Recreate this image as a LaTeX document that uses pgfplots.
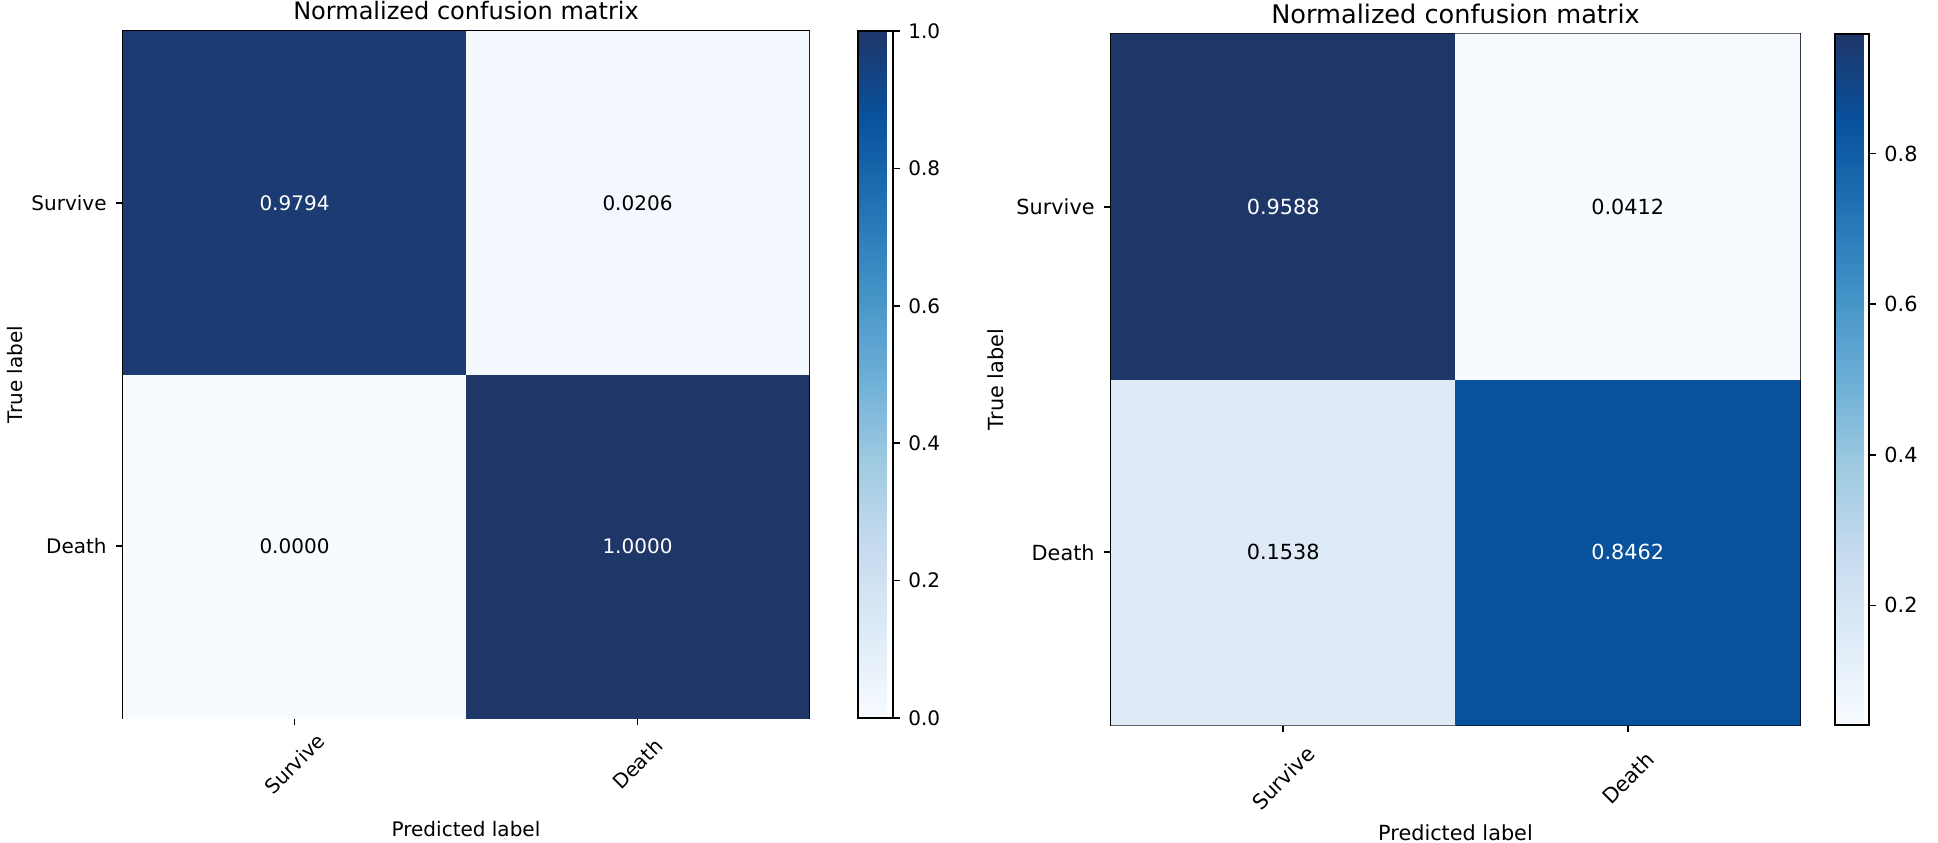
\documentclass[border=0pt]{standalone}
\usepackage{fontspec}
\setmainfont{DejaVu Sans}
\usepackage{pgfplots}
\usepackage{pgfplotstable}
\pgfplotsset{compat=1.18}

\pgfplotsset{
  colormap={mblues}{rgb255(0cm)=(247,251,255); rgb255(1cm)=(222,235,247); rgb255(2cm)=(198,219,239); rgb255(3cm)=(158,202,225); rgb255(4cm)=(107,174,214); rgb255(5cm)=(66,146,198); rgb255(6cm)=(33,113,181); rgb255(7cm)=(8,81,156); rgb255(8cm)=(31,54,105)},
  nf/.style={/pgf/number format/fixed, /pgf/number format/fixed zerofill, /pgf/number format/precision=1, /pgf/number format/assume math mode=true},
  cm/.style={
    scale only axis, xmin=-0.5, xmax=1.5, ymin=-0.5, ymax=1.5,
    xtick={0,1}, ytick={0,1},
    xticklabels={Survive,Death}, yticklabels={Death,Survive},
    xtick pos=bottom, ytick pos=left, tick align=outside, major tick length=3.5pt,
    tick style={black, line width=0.8pt},
    axis line style={line width=0.8pt},
    colormap name=mblues, colorbar,
    enlargelimits=false, clip=true,
    every axis title shift=0pt,
  },
}

\pgfplotstableread{
x y c
0 0 0.0000
1 0 1.0000
0 1 0.9794
1 1 0.0206
}\leftcm
\pgfplotstableread{
x y c
0 0 0.1538
1 0 0.8462
0 1 0.9588
1 1 0.0412
}\rightcm

\begin{document}
\begin{tikzpicture}
\useasboundingbox (0,0) rectangle (969pt,421pt);
% ---------------- left ----------------
\begin{axis}[cm,
  at={(61.5pt,62pt)}, anchor=south west, width=343pt, height=343.5pt,
  point meta min=0, point meta max=1,
  title={Normalized confusion matrix},
  title style={at={(axis description cs:0.5,1.016)}, anchor=base, yshift=0pt, inner sep=0pt, font=\fontsize{12}{14}\selectfont},
  xlabel={Predicted label}, ylabel={True label},
  xlabel style={at={(axis description cs:0.5,-0.1732)}, anchor=base, inner sep=0pt, font=\fontsize{10}{12}\selectfont},
  ylabel style={at={(axis description cs:-0.1458,0.5)}, anchor=base, inner sep=0pt, font=\fontsize{10}{12}\selectfont},
  xticklabel style={yshift=-19.5pt, rotate=45, anchor=center, inner sep=0pt, font=\fontsize{10}{12}\selectfont},
  yticklabel style={anchor=east, inner sep=0pt, xshift=-4.5pt, font=\fontsize{10}{12}\selectfont},
  colorbar style={at={(parent axis.north east)}, anchor=north west, xshift=15.96pt,
    scale only axis, width=17.5pt, height=343.5pt,
    ytick={0,0.2,0.4,0.6,0.8,1}, ytick pos=right, yticklabel pos=right,
    tick align=outside, major tick length=3.5pt,
    tick style={black, line width=0.8pt}, axis line style={line width=0.8pt},
    yticklabel style={nf, anchor=west, inner sep=0pt, xshift=4pt, font=\fontsize{10}{12}\selectfont},
  },
]
\addplot[matrix plot*, mesh/cols=2, point meta=explicit] table[meta=c] {\leftcm};
\addplot[draw=none, nodes near coords, point meta=explicit symbolic,
  every node near coord/.append style={anchor=center, text=white, font=\fontsize{10}{12}\selectfont}]
  table[meta=t] {
x y t
0 1 0.9794
1 0 1.0000
};
\addplot[draw=none, nodes near coords, point meta=explicit symbolic,
  every node near coord/.append style={anchor=center, text=black, font=\fontsize{10}{12}\selectfont}]
  table[meta=t] {
x y t
1 1 0.0206
0 0 0.0000
};
\end{axis}
% ---------------- right ----------------
\begin{axis}[cm,
  at={(555.5pt,58.5pt)}, anchor=south west, width=344.5pt, height=345.5pt,
  point meta min=0.0412, point meta max=0.9588,
  title={Normalized confusion matrix},
  title style={at={(axis description cs:0.5,1.0159)}, anchor=base, yshift=0pt, inner sep=0pt, font=\fontsize{12.8}{15}\selectfont},
  xlabel={Predicted label}, ylabel={True label},
  xlabel style={at={(axis description cs:0.5,-0.1665)}, anchor=base, inner sep=0pt, font=\fontsize{10.4}{12}\selectfont},
  ylabel style={at={(axis description cs:-0.1567,0.5)}, anchor=base, inner sep=0pt, font=\fontsize{10.4}{12}\selectfont},
  xticklabel style={yshift=-23pt, rotate=45, anchor=center, inner sep=0pt, font=\fontsize{10.4}{12}\selectfont},
  yticklabel style={anchor=east, inner sep=0pt, xshift=-4.5pt, font=\fontsize{10.4}{12}\selectfont},
  colorbar style={at={(parent axis.north east)}, anchor=north west, xshift=9pt,
    scale only axis, width=17pt, height=345.5pt,
    ytick={0.2,0.4,0.6,0.8}, ytick pos=right, yticklabel pos=right,
    tick align=outside, major tick length=3.5pt,
    tick style={black, line width=0.8pt}, axis line style={line width=0.8pt},
    yticklabel style={nf, anchor=west, inner sep=0pt, xshift=4pt, font=\fontsize{10.4}{12}\selectfont},
  },
]
\addplot[matrix plot*, mesh/cols=2, point meta=explicit] table[meta=c] {\rightcm};
\addplot[draw=none, nodes near coords, point meta=explicit symbolic,
  every node near coord/.append style={anchor=center, text=white, font=\fontsize{10.4}{12}\selectfont}]
  table[meta=t] {
x y t
0 1 0.9588
1 0 0.8462
};
\addplot[draw=none, nodes near coords, point meta=explicit symbolic,
  every node near coord/.append style={anchor=center, text=black, font=\fontsize{10.4}{12}\selectfont}]
  table[meta=t] {
x y t
1 1 0.0412
0 0 0.1538
};
\end{axis}
\end{tikzpicture}
\end{document}
